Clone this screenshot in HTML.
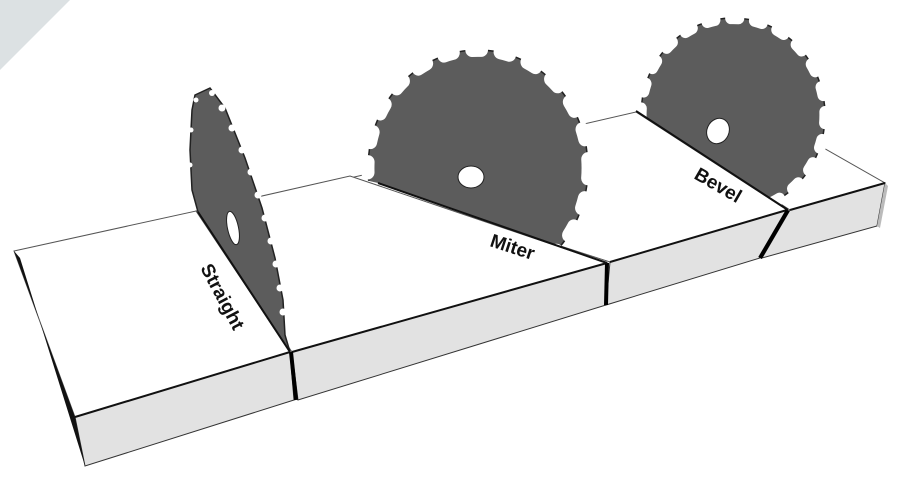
<!DOCTYPE html>
<html><head><meta charset="utf-8"><style>
html,body{margin:0;padding:0;background:#fff;width:911px;height:496px;overflow:hidden}
svg{display:block}
text{font-family:"Liberation Sans","DejaVu Sans",sans-serif;font-weight:bold;fill:#111}
</style></head><body>
<svg width="911" height="496" viewBox="0 0 911 496" xmlns="http://www.w3.org/2000/svg">
<defs>
<clipPath id="cm"><polygon points="300,0 700,0 700,290 607,263 378,183 300,165"/></clipPath>
<clipPath id="cb"><polygon points="600,0 900,0 900,230 790,211 636,111 600,100"/></clipPath>
</defs>
<polygon points="0,0 70,0 0,70" fill="#dce1e3"/>

<polygon points="700,100 813,142 885,183 790,210 640,112" fill="#fff" stroke="#555" stroke-width="1"/>
<polygon points="790,210 885,183 877,226 762,258" fill="#e2e2e2" stroke="#333" stroke-width="1"/>
<polygon points="885,183 888,186 880,228 877,226" fill="#bbb"/>
<polygon points="350,178 636,112 787,210 610,262" fill="#fff" stroke="#555" stroke-width="1"/>
<polygon points="610,262 787,210 760,258 606,305" fill="#e2e2e2" stroke="#333" stroke-width="1"/>
<polygon points="196,211 350,176 607,263 292,352" fill="#fff" stroke="#555" stroke-width="1"/>
<polygon points="292,352 607,263 606,305 298,400" fill="#e2e2e2" stroke="#333" stroke-width="1"/>
<polygon points="14,251 196,211 290,352 75,417" fill="#fff" stroke="#555" stroke-width="1"/>
<polygon points="75,417 290,352 294,400 85,466" fill="#e2e2e2" stroke="#333" stroke-width="1"/>
<polygon points="14,251 20,258 85,466 75,417" fill="#111"/>
<line x1="75" y1="417" x2="290" y2="352" stroke="#111" stroke-width="2"/>
<line x1="292" y1="352" x2="607" y2="263" stroke="#111" stroke-width="2"/>
<line x1="610" y1="262" x2="787" y2="210" stroke="#111" stroke-width="2"/>
<line x1="790" y1="210" x2="885" y2="183" stroke="#111" stroke-width="2"/>

<line x1="291" y1="352" x2="296" y2="400" stroke="#000" stroke-width="4"/>
<line x1="607" y1="263" x2="606" y2="305" stroke="#000" stroke-width="4"/>
<line x1="788" y1="210" x2="760" y2="258" stroke="#000" stroke-width="4"/>

<polygon points="195,95 210,88 225,108 245,158 262,208 275,258 283,300 285,335 290,352 198,212 192,190 190,150 192,110" fill="#5c5c5c" stroke="#222" stroke-width="1.5"/>
<g fill="#fff">
<circle cx="212" cy="93" r="3"/><circle cx="222" cy="108" r="3.5"/><circle cx="232" cy="128" r="3.5"/><circle cx="242" cy="150" r="3.5"/><circle cx="251" cy="172" r="3.5"/><circle cx="258" cy="195" r="3.5"/><circle cx="265" cy="218" r="3.5"/><circle cx="271" cy="241" r="3.5"/><circle cx="276" cy="264" r="3.5"/><circle cx="280" cy="288" r="3.5"/><circle cx="283" cy="312" r="3.5"/><circle cx="191" cy="130" r="2.5"/><circle cx="190" cy="165" r="2.5"/><circle cx="196" cy="100" r="2.5"/>
</g>
<ellipse cx="233" cy="228" rx="5.5" ry="17" transform="rotate(-12 233 228)" fill="#fff" stroke="#222"/>
<line x1="198" y1="212" x2="290" y2="352" stroke="#111" stroke-width="2"/>

<g clip-path="url(#cm)">
<ellipse cx="478" cy="168" rx="110" ry="118" fill="#5c5c5c" stroke="#222" stroke-width="1.5"/>
<circle cx="478" cy="168" r="116" fill="none" stroke="#fff" stroke-width="14" stroke-dasharray="10 20" stroke-linecap="round" transform="translate(478 168) scale(0.95 1.02) translate(-478 -168)"/>
</g>
<ellipse cx="471" cy="177" rx="13" ry="11" fill="#fff" stroke="#222"/>
<line x1="378" y1="183" x2="607" y2="263" stroke="#111" stroke-width="2"/>

<g clip-path="url(#cb)">
<ellipse cx="733" cy="115" rx="92" ry="97" fill="#5c5c5c" stroke="#222" stroke-width="1.5"/>
<circle cx="733" cy="115" r="96" fill="none" stroke="#fff" stroke-width="12" stroke-dasharray="8 17" stroke-linecap="round" transform="translate(733 115) scale(0.96 1.01) translate(-733 -115)"/>
</g>
<ellipse cx="718" cy="131" rx="11" ry="13" transform="rotate(25 718 131)" fill="#fff" stroke="#222"/>
<line x1="636" y1="111" x2="788" y2="210" stroke="#111" stroke-width="2"/>

<text x="0" y="0" font-size="19" transform="translate(200 268) rotate(62)">Straight</text>
<text x="0" y="0" font-size="19" transform="translate(489 246) rotate(18)">Miter</text>
<text x="0" y="0" font-size="19" transform="translate(693 178) rotate(30)">Bevel</text>
</svg>
</body></html>
